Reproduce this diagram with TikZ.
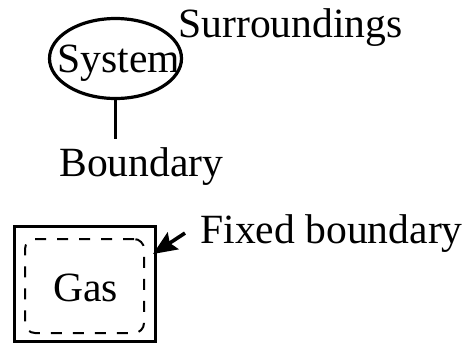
\documentclass[tikz,border=0pt]{standalone}
\usepackage{fontspec}
\setmainfont{Liberation Serif}
\usetikzlibrary{shapes.geometric,arrows.meta}
\begin{document}
\begin{tikzpicture}[x=0.5pt,y=-0.5pt,
  lbl/.style={inner sep=0pt,anchor=base west,font=\fontsize{20.8}{24}\selectfont},
  thick line/.style={line width=1.6pt},
  sysbound/.style={ellipse,draw,thick line,minimum width=66pt,minimum height=40pt,inner sep=0pt},
  wall/.style={draw,line width=1.7pt,minimum width=70.5pt,minimum height=57.5pt,inner sep=0pt},
  innerwall/.style={draw,line width=1pt,dash pattern=on 5.5pt off 5.5pt,rounded corners=5pt,
                    minimum width=59.5pt,minimum height=47pt,inner sep=0pt},
  pointer/.style={line width=1.8pt,-{Stealth[length=12pt,width=10pt,inset=2pt]}}]
\useasboundingbox (0,0) rectangle (470,349);

% open system: ellipse with its boundary marker
\node[sysbound] (sys) at (115.5,58.5) {};
\node[lbl] (systxt) at (57,72) {System};
\node[lbl] (sur) at (178,37) {Surroundings};
\coordinate (bmark) at (115.5,139);
\draw[thick line] (sys.south) -- (bmark);
\node[lbl] (bnd) at (59,176) {Boundary};

% closed container of gas
\node[wall] (box) at (85,284) {};
\node[innerwall] (gasreg) at (84.5,286) {};
\node[lbl,anchor=base] (gas) at (85.5,301) {Gas};
\node[lbl] (fb) at (200,243) {Fixed boundary};
\coordinate (fbtip) at (153,254);
\draw[pointer] ([xshift=-7.5pt]fb.west) -- (fbtip);
\end{tikzpicture}
\end{document}
